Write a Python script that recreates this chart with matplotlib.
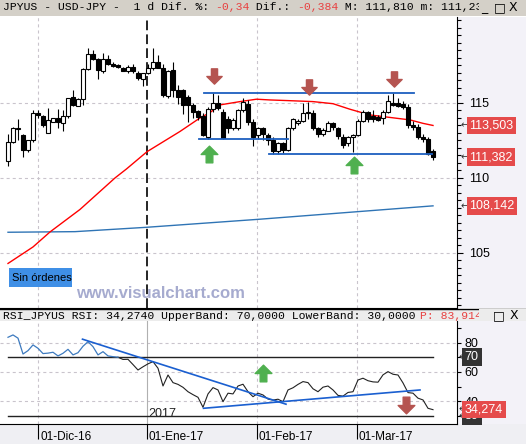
import matplotlib
matplotlib.use("Agg")
import matplotlib.pyplot as plt
from matplotlib.patches import Rectangle
from matplotlib.path import Path
from matplotlib.ticker import MultipleLocator, FixedLocator
from matplotlib.transforms import blended_transform_factory
from matplotlib.lines import Line2D

plt.rcParams['font.family'] = ['Liberation Sans', 'DejaVu Sans']
plt.rcParams['lines.scale_dashes'] = False

# ---- data ----
opens = [111.1, 112.4, 113.28, 112.87, 111.87, 112.5, 114.35, 114.13, 113.02, 113.75,
         114.0, 113.65, 114.1, 115.4, 114.82, 115.25, 117.25, 118.27, 117.9, 117.1,
         117.9, 117.6, 117.55, 117.3, 117.1, 117.4, 117.0, 116.6, 117.0, 117.3,
         117.7, 117.3, 115.47, 117.2, 115.87, 115.87, 115.4, 114.87, 114.47, 114.13,
         112.71, 114.58, 115.02, 114.42, 113.9, 113.3, 113.31, 114.53, 114.93, 113.75,
         112.87, 113.31, 112.87, 112.53, 111.8, 112.31, 111.87, 113.31, 113.65, 113.8,
         114.35, 114.31, 113.31, 112.93, 113.15, 113.69, 113.31, 112.75, 112.3, 112.75,
         112.87, 113.82, 114.38, 114.13, 114.05, 113.98, 114.42, 115.02, 114.98, 114.93,
         114.7, 113.55, 113.42, 112.75, 112.58, 111.82]
highs = [112.9, 113.4, 113.9, 112.9, 112.5, 114.5, 114.5, 114.2, 114.69, 114.0,
         114.6, 114.5, 115.3, 115.87, 115.3, 117.3, 118.65, 118.5, 118.0, 118.3,
         118.2, 117.7, 117.6, 117.4, 117.5, 117.6, 117.1, 117.0, 117.6, 118.65,
         118.2, 117.6, 117.2, 117.7, 116.2, 115.9, 115.5, 115.0, 114.5, 114.33,
         114.7, 115.65, 115.5, 114.6, 114.1, 114.0, 114.6, 115.3, 115.2, 113.9,
         113.4, 113.4, 113.0, 112.7, 112.4, 112.4, 113.4, 114.0, 113.9, 114.98,
         115.09, 114.5, 113.4, 113.3, 113.8, 113.75, 113.4, 112.9, 112.8, 112.9,
         113.9, 114.5, 114.45, 114.5, 114.2, 114.5, 115.5, 115.65, 115.3, 115.1,
         114.9, 113.8, 113.6, 112.9, 112.7, 111.95]
lows = [110.8, 112.3, 112.5, 111.4, 111.7, 112.4, 114.0, 113.4, 113.0, 113.7,
        113.3, 113.1, 114.0, 114.8, 114.8, 114.87, 117.2, 117.85, 116.6, 117.0,
        117.5, 117.4, 117.3, 117.1, 117.0, 117.0, 116.5, 116.1, 116.9, 117.2,
        117.3, 115.4, 115.3, 115.4, 114.9, 114.27, 113.75, 114.0, 113.87, 112.8,
        112.6, 114.4, 114.5, 112.58, 113.0, 113.2, 113.2, 114.4, 113.5, 112.1,
        112.6, 112.5, 112.2, 111.6, 111.6, 111.65, 111.8, 113.2, 113.5, 113.7,
        113.9, 113.2, 112.7, 112.8, 113.1, 113.2, 112.6, 112.0, 112.1, 111.7,
        112.8, 113.7, 113.7, 113.7, 113.8, 113.6, 114.3, 114.8, 114.7, 114.6,
        113.3, 113.2, 112.6, 112.4, 111.5, 111.2]
closes = [112.4, 113.3, 113.3, 111.87, 112.5, 114.35, 114.2, 113.5, 113.87, 114.0,
          113.7, 114.1, 115.3, 114.87, 115.25, 117.25, 118.27, 117.9, 117.2, 117.9,
          117.6, 117.45, 117.4, 117.15, 117.4, 117.1, 116.65, 117.0, 117.3, 117.7,
          117.3, 115.53, 117.1, 115.87, 115.42, 114.87, 114.87, 114.42, 114.09, 112.87,
          114.58, 115.02, 114.65, 112.65, 113.3, 113.85, 114.53, 115.09, 113.75, 112.71,
          113.31, 112.93, 112.53, 111.8, 112.31, 111.87, 113.31, 113.91, 113.8, 114.35,
          114.37, 113.31, 112.93, 113.2, 113.69, 113.38, 112.8, 112.2, 112.75, 112.85,
          113.82, 114.38, 113.91, 113.91, 113.87, 114.42, 115.15, 114.87, 114.8, 114.75,
          113.53, 113.42, 112.75, 112.58, 111.6, 111.38]

# moving averages, read as (bar, price) points
ma_fast_x = [0, 5, 8.4, 14.4, 18.4, 21.4, 23.7, 27.8, 34.4, 38.4, 40.4, 42.4, 46.4,
             49.7, 52.4, 55.7, 61, 65, 68.4, 72.4, 77.7, 80.4, 83, 85]
ma_fast_y = [104.3, 105.4, 106.4, 107.9, 109.1, 110.0, 110.6, 111.75, 113.1, 114.0, 114.36,
             114.87, 115.09, 115.25, 115.2, 115.16, 115.09, 114.95, 114.58, 114.2, 113.98,
             113.87, 113.64, 113.5]
ma_slow_x = [0, 13.4, 27.7, 50.4, 85]
ma_slow_y = [106.38, 106.42, 106.71, 107.25, 108.14]

rsi_vals = [83.6, 85.2, 83.0, 72.2, 74.5, 78.4, 76.1, 72.5, 72.8, 73.4,
            70.9, 72.7, 75.4, 71.6, 73.1, 77.5, 80.6, 77.2, 71.6, 73.8,
            70.9, 70.4, 70.0, 68.5, 68.6, 65.0, 61.3, 63.5, 65.5, 67.0,
            62.5, 50.4, 57.9, 52.7, 51.5, 49.5, 46.5, 44.5, 42.7, 35.9,
            45.0, 49.3, 47.7, 39.7, 45.5, 45.0, 50.4, 51.6, 46.5, 43.1,
            45.5, 44.3, 41.5, 40.8, 41.4, 39.7, 47.7, 49.2, 51.5, 53.4,
            52.7, 48.5, 46.5, 49.6, 50.4, 47.7, 44.0, 43.5, 46.0, 46.5,
            54.5, 55.7, 54.0, 53.2, 53.0, 58.0, 60.2, 58.4, 57.9, 52.5,
            45.9, 45.5, 42.1, 40.9, 35.2, 34.27]
rsi_overbought_until = 21

# drawn support / resistance lines (x0, x1, level)
levels = [(39.1, 81.1, 115.65), (38.1, 55.9, 112.6), (52.1, 84.7, 111.58)]
rsi_trend = [((14.9, 55.6), (82.3, 38.0)), ((39.1, 82.4), (35.2, 47.7))]
arrows_down = [(41.1, 116.81), (60.1, 116.06), (77.1, 116.57)]
arrows_up = [(40.1, 111.57), (69.2, 110.85)]
rsi_arrow_up = (50.9, 59.1)
rsi_arrow_down = (79.6, 37.6)

price_tags = [113.503, 111.382, 108.142]
date_pos = [6.06, 27.8, 49.8, 69.8]
date_labels = ['01-Dic-16', '01-Ene-17', '01-Feb-17', '01-Mar-17']
year_pos = 27.8

W, H = 526, 444
fig = plt.figure(figsize=(W / 100, H / 100), dpi=100)
fig.patch.set_facecolor('white')


def box(x0, y0, x1, y1):
    return [x0 / W, 1 - y1 / H, (x1 - x0) / W, (y1 - y0) / H]


def fig_rect(x0, y0, x1, y1, color, z=-1):
    fig.patches.append(Rectangle((x0 / W, 1 - y1 / H), (x1 - x0) / W, (y1 - y0) / H,
                                 transform=fig.transFigure, fc=color, ec='none', zorder=z))


# backgrounds
fig_rect(0, 0, W, 16, '#d4d0c8')
fig_rect(457, 17, W, 308, '#f3f2f8')
fig_rect(0, 309, W, 321, '#ececec')
fig_rect(457, 321, W, 424, '#f3f2f8')
fig_rect(0, 424, W, H, '#efeff3')
fig.lines.append(Line2D([0, 1], [1 - 308.5 / H] * 2, transform=fig.transFigure, color='black', lw=1))

gridc = '#c9c4cc'
dash = (0, (2.2, 2.2))

# ---- main price panel ----
ax = fig.add_axes(box(0, 17, 457, 308))
ax.set_xlim(-1.6, 89.8)
ax.set_ylim(101.33, 120.73)
for s in ['top', 'left']:
    ax.spines[s].set_visible(False)
ax.spines['right'].set_linewidth(0.8)
ax.set_xticks([])
ax.yaxis.tick_right()
ax.set_yticks([105, 110, 115])
ax.set_yticklabels(['105', '110', '115'])
ax.yaxis.set_minor_locator(MultipleLocator(0.5))
ax.tick_params(axis='y', which='major', length=4, width=0.8, pad=4.5, labelsize=9)
ax.tick_params(axis='y', which='minor', length=3, width=0.8)

for v in [105, 110, 115]:
    ax.axhline(v, color=gridc, lw=0.8, ls=dash, zorder=0)
for d in date_pos:
    if d != year_pos:
        ax.axvline(d, color=gridc, lw=0.8, ls=dash, zorder=0)
ax.axvline(year_pos, color='black', lw=1.2, ls=(0, (7, 3)), zorder=1)

ax.plot(ma_slow_x, ma_slow_y, color='#2f74b5', lw=1.0, zorder=2)
ax.plot(ma_fast_x, ma_fast_y, color='#ff0000', lw=1.0, zorder=2)

idx = list(range(len(opens)))
ax.vlines(idx, lows, highs, color='black', lw=0.8, zorder=3)
bottoms = [min(o, c) for o, c in zip(opens, closes)]
heights = [max(abs(c - o), 0.04) for o, c in zip(opens, closes)]
faces = ['white' if c >= o else 'black' for o, c in zip(opens, closes)]
ax.bar(idx, heights, bottom=bottoms, width=0.8, color=faces, edgecolor='black', lw=0.8, zorder=4)

for x0, x1, lv in levels:
    ax.plot([x0, x1], [lv, lv], color='#1d5fbf', lw=1.3, zorder=5)

up_path = Path([(-0.2, -0.5), (0.2, -0.5), (0.2, 0.0), (0.5, 0.0), (0, 0.5), (-0.5, 0.0),
                (-0.2, 0.0), (-0.2, -0.5)], closed=True)
down_path = Path([(x, -y) for x, y in up_path.vertices], closed=True)
red_arrow = '#b55450'
green_arrow = '#4fb04f'
ax.plot([a[0] for a in arrows_down], [a[1] for a in arrows_down], ls='none', marker=down_path,
        ms=11, color=red_arrow, zorder=6)
ax.plot([a[0] for a in arrows_up], [a[1] for a in arrows_up], ls='none', marker=up_path,
        ms=12, color=green_arrow, zorder=6)

trans = blended_transform_factory(ax.transAxes, ax.transData)
for p in price_tags:
    ax.text(1.007, p, '\u2190', transform=trans, ha='left', va='center', fontsize=7,
            color='#333333', family='DejaVu Sans', clip_on=False)
    ax.text(1.027, p, f'{p:.3f}'.replace('.', ','), transform=trans, ha='left', va='center',
            fontsize=9, color='white', clip_on=False,
            bbox=dict(boxstyle='square,pad=0.22', fc='#e54b4b', ec='none'))

# ---- RSI panel ----
rsi = fig.add_axes(box(0, 321, 457, 424))
rsi.set_xlim(-1.6, 89.8)
rsi.set_ylim(24.5, 94.7)
for s in ['top', 'left']:
    rsi.spines[s].set_visible(False)
rsi.spines['right'].set_linewidth(0.8)
rsi.spines['bottom'].set_linewidth(0.8)
rsi.set_xticks(date_pos)
rsi.tick_params(axis='x', length=11, width=0.8, labelbottom=False)
rsi.yaxis.tick_right()
rsi.set_yticks([40, 60, 80])
rsi.set_yticklabels(['40', '60', '80'])
rsi.yaxis.set_minor_locator(FixedLocator([30, 50, 70, 90]))
rsi.tick_params(axis='y', which='major', length=3, width=0.8, pad=2.5, labelsize=9)
rsi.tick_params(axis='y', which='minor', length=3, width=0.8)

for v in [40, 60, 80]:
    rsi.axhline(v, color=gridc, lw=0.8, ls=dash, zorder=0)
for d in date_pos:
    if d != year_pos:
        rsi.axvline(d, color=gridc, lw=0.8, ls=dash, zorder=0)
rsi.axvline(year_pos, color='#b0b0b0', lw=0.8, zorder=0)

n = len(rsi_vals)
rsi.plot([0, n - 1], [70, 70], color='#222222', lw=1.0, zorder=1)
rsi.plot([0, n - 1], [30, 30], color='#222222', lw=1.0, zorder=1)
rsi.plot(range(rsi_overbought_until + 1, n), rsi_vals[rsi_overbought_until + 1:],
         color='#222222', lw=0.8, zorder=2)
rsi.plot(range(rsi_overbought_until + 2), rsi_vals[:rsi_overbought_until + 2],
         color='#3d7abf', lw=0.9, zorder=2)
for xs, ys in rsi_trend:
    rsi.plot(xs, ys, color='#1a5fd0', lw=1.2, zorder=3)
rsi.plot([rsi_arrow_up[0]], [rsi_arrow_up[1]], marker=up_path, ms=12, color=green_arrow, zorder=4)
rsi.plot([rsi_arrow_down[0]], [rsi_arrow_down[1]], marker=down_path, ms=12, color=red_arrow, zorder=4)
rsi.text(year_pos + 0.2, 31.5, '2017', fontsize=9, color='#222222', ha='left', va='center')

rtrans = blended_transform_factory(rsi.transAxes, rsi.transData)
for v in [70, 30]:
    rsi.text(1.004, v, '\u2190', transform=rtrans, ha='left', va='center', fontsize=7,
             color='#333333', family='DejaVu Sans', clip_on=False)
    rsi.text(1.017, v, str(v), transform=rtrans, ha='left', va='center', fontsize=9,
             color='white', clip_on=False,
             bbox=dict(boxstyle='square,pad=0.25', fc='#333333', ec='none'))
rsi.text(1.004, rsi_vals[-1], '\u2190', transform=rtrans, ha='left', va='center', fontsize=7,
         color='#333333', family='DejaVu Sans', clip_on=False, zorder=5)
rsi.text(1.017, rsi_vals[-1], '34,274', transform=rtrans, ha='left', va='center', fontsize=9,
         color='white', clip_on=False, zorder=5,
         bbox=dict(boxstyle='square,pad=0.22', fc='#e54b4b', ec='none'))

dtrans = blended_transform_factory(rsi.transData, rsi.transAxes)
for d, lab in zip(date_pos, date_labels):
    rsi.text(d + 0.35, -0.125, lab, transform=dtrans, ha='left', va='center', fontsize=8.5,
             clip_on=False)

# ---- overlays: order box + watermark ----
fig_rect(9, 268, 72, 287, '#3f8fe6', z=2)
fig.text(12 / W, 1 - 278 / H, 'Sin órdenes', fontsize=8, ha='left', va='center', zorder=3)
fig.text(160 / W, 1 - 293 / H, 'www.visualchart.com', fontsize=12, fontweight='bold',
         color='#a6abcf', ha='center', va='center')

# ---- title bars ----
cw = 6.83


def mono_line(y, pieces):
    pos = 3.3
    for s, c in pieces:
        fig.text(pos / W, 1 - y / H, s, color=c, family='Liberation Mono', fontsize=8.2,
                 ha='left', va='center')
        pos += len(s) * cw


red_txt = '#e84040'
mono_line(7.5, [('JPYUS - USD-JPY -  1 d Dif. %: ', 'black'), ('-0,34', red_txt),
                (' Dif.: ', 'black'), ('-0,384', red_txt), (' M: 111,810 m: 111,23', 'black')])
mono_line(315.5, [('RSI_JPYUS RSI: 34,2740 UpperBand: 70,0000 LowerBand: 30,0000 ', 'black'),
                  ('P: 83,914', red_txt)])
fig_rect(479, 0, W, 16, '#d4d0c8', z=4)
fig_rect(479, 309, W, 321, '#ececec', z=4)
for x, s in [(484, '_'), (500, '\u25a1'), (513, 'X')]:
    fig.text(x / W, 1 - 7.5 / H, s, family='DejaVu Sans', fontsize=9, ha='center', va='center', zorder=5)
for x, s in [(499, '\u25a1'), (514, 'X')]:
    fig.text(x / W, 1 - 315.5 / H, s, family='DejaVu Sans', fontsize=9, ha='center', va='center', zorder=5)

fig.savefig('out.png', dpi=100)
